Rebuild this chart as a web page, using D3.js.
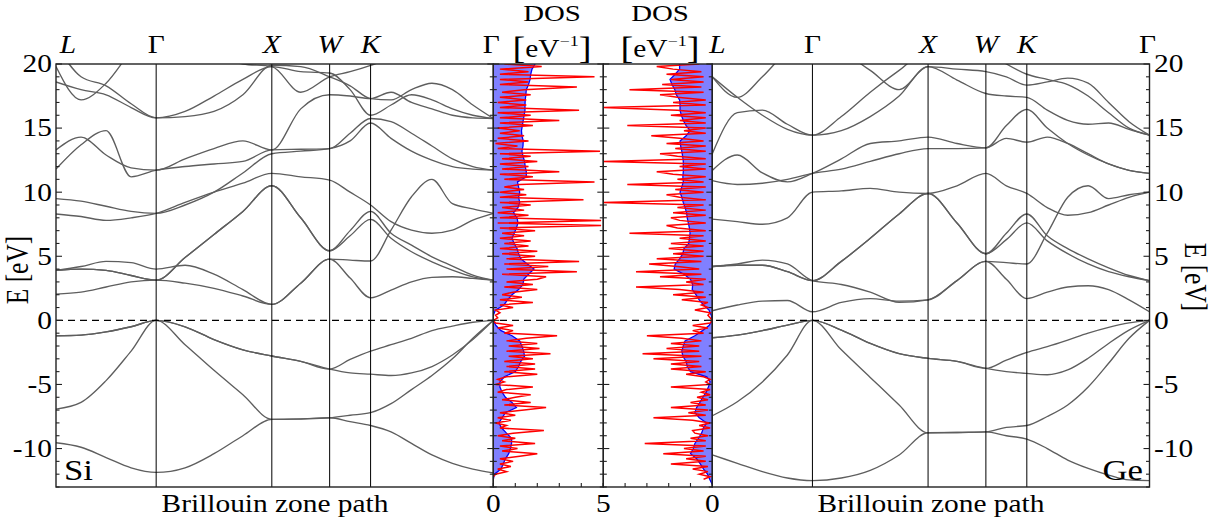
<!DOCTYPE html>
<html>
<head>
<meta charset="utf-8">
<script src="https://cdn.jsdelivr.net/npm/d3@7"></script>
<style>
  body { margin: 0; background: #fff; }
  text { font-family: "Liberation Serif", "Times New Roman", serif; fill: #000; }
</style>
</head>
<body>
<svg id="chart" width="1222" height="525"></svg>
<script>
// ---------- Brillouin-zone path (fcc) ----------
const pathLabels = ["L", "Γ", "X", "W", "K", "Γ"];
const segLengths = [0.866, 1.0, 0.5, 0.354, 1.061];   // in units of 2π/a
const segSamples = [4, 4, 2, 2, 6];                   // k-samples per segment

// Band energies (eV) at the sampled k-points along L-Γ-X-W-K-Γ
const siBands = [
  [-9.55,-9.9,-10.7,-11.5,-11.86, -11.5,-10.4,-9.0,-7.72, -7.7,-7.6, -7.9,-8.2, -8.7,-9.6,-10.5,-11.15,-11.6,-11.9],
  [-6.92,-6.4,-4.7,-2.4,0, -1.9,-3.9,-5.8,-7.72, -7.68,-7.6, -7.4,-7.2, -6.5,-5.4,-4.3,-3.0,-1.4,0],
  [-1.2,-1.15,-0.9,-0.5,0, -0.5,-1.5,-2.3,-2.78, -3.2,-3.8, -4.1,-4.2, -4.3,-4.1,-3.6,-2.7,-1.5,0],
  [-1.2,-1.15,-0.9,-0.5,0, -0.5,-1.5,-2.3,-2.78, -3.2,-3.8, -3.05,-2.4, -1.9,-1.4,-0.8,-0.45,-0.15,0],
  [2.05,2.2,2.6,3.0,3.14, 2.9,2.5,1.9,1.25, 2.9,4.78, 3.3,1.76, 2.36,3.0,3.35,3.4,3.27,3.14],
  [3.9,4.2,4.6,4.5,4.0, 4.3,3.6,2.4,1.25, 2.9,4.78, 4.7,4.63, 7.04,9.64,11.0,9.1,8.7,8.35],
  [3.9,4.0,3.9,3.5,3.14, 4.9,6.7,8.5,10.5, 8.0,5.43, 6.6,7.88, 6.4,5.35,4.57,3.92,3.4,3.14],
  [3.9,4.0,3.9,3.5,3.14, 4.9,6.7,8.5,10.5, 8.0,5.43, 7.0,8.5, 6.8,5.87,4.96,4.24,3.53,3.14],
  [8.3,8.1,7.8,8.0,8.35, 9.2,10.0,10.7,11.47, 11.2,10.94, 10.0,9.0, 7.7,7.04,6.8,7.04,7.82,8.35],
  [9.5,9.3,8.9,8.5,8.35, 9.0,10.0,11.5,13.0, 13.2,13.4, 14.0,15.4, 14.2,13.2,12.5,12.0,11.8,11.72],
  [11.8,13.7,14.8,11.2,11.72, 12.0,12.2,12.4,13.3, 13.35,13.4, 14.6,15.75, 15.5,14.6,13.6,12.6,12.0,11.72],
  [13.3,14.3,12.9,11.9,11.72, 12.6,13.4,14.0,13.3, 16.5,17.6, 17.5,17.3, 17.8,17.0,16.5,16.0,15.8,15.75],
  [19.8,17.2,18.5,21,23, 21,20.5,20.0,19.8, 17.8,19.0, 19.4,19.9, 20.5,21.5,21,20.5,20.5,21],
  [21.5,19.0,18.3,16.9,15.8, 16.3,17.5,18.8,19.8, 19.4,19.3, 18.0,16.0, 16.8,17.6,17.2,16.5,16.0,15.75],
  [18.6,18.0,17.6,16.6,15.8, 15.9,16.3,17.6,19.9, 19.8,19.0, 18.3,17.3, 17.2,18.0,18.5,18.0,16.8,15.75]
];
const geBands = [
  [-10.5,-11.15,-11.8,-12.3,-12.5, -12.3,-11.7,-10.5,-8.77, -8.75,-8.7, -9.0,-9.26, -10.0,-10.9,-11.55,-12.07,-12.45,-12.5],
  [-7.44,-6.35,-4.8,-2.7,0, -2.3,-4.45,-6.6,-8.77, -8.75,-8.7, -8.35,-8.2, -7.5,-6.6,-5.2,-3.35,-1.4,0],
  [-1.36,-1.15,-0.8,-0.37,0, -0.76,-1.8,-2.6,-2.97, -3.2,-3.75, -4.0,-4.14, -4.24,-3.87,-2.96,-1.8,-0.76,0],
  [-1.36,-1.15,-0.8,-0.37,0, -0.76,-1.8,-2.6,-2.97, -3.2,-3.75, -3.1,-2.5, -2.05,-1.54,-1.0,-0.55,-0.2,0],
  [0.75,1.2,1.5,1.55,0.67, 1.4,1.7,1.5,1.6, 3.1,4.6, 3.2,1.7, 2.2,2.6,2.7,2.4,1.6,0.67],
  [4.2,4.4,4.7,4.4,3.1, 2.8,2.2,1.4,1.6, 3.1,4.6, 4.5,4.4, 6.8,9.6,10.5,9.5,9.8,10.0],
  [4.2,4.3,4.3,3.8,3.1, 4.6,6.4,8.3,9.9, 7.6,5.2, 6.3,7.6, 6.2,5.2,4.4,3.8,3.4,3.1],
  [4.2,4.3,4.3,3.8,3.1, 4.6,6.4,8.3,9.9, 7.6,5.2, 6.8,8.3, 6.6,5.6,4.8,4.1,3.5,3.1],
  [7.9,7.7,7.5,8.0,10.0, 10.1,10.3,10.0,9.9, 10.5,11.47, 10.5,9.9, 8.8,8.2,8.4,9.0,9.6,10.0],
  [10.9,10.6,10.7,11.0,11.47, 11.8,12.4,13.0,13.4, 13.4,13.46, 14.2,13.9, 14.3,13.8,13.0,12.2,11.7,11.47],
  [11.7,12.9,11.5,10.8,11.47, 12.6,13.8,14.0,14.3, 13.8,13.46, 15.2,16.46, 15.0,13.8,12.9,12.2,11.7,11.47],
  [13.0,16.2,16.4,15.3,14.45, 15.9,17.8,19.5,21, 21,21, 20,19.2, 18.8,18.4,17.5,16.2,15.0,14.45],
  [19.0,17.4,16.0,14.9,14.45, 14.8,15.9,17.5,19.8, 18.75,17.7, 17.5,17.4, 16.4,15.6,15.3,15.4,14.9,14.45],
  [19.0,17.4,19.0,21,22, 21,19.5,18.0,19.8, 19.6,19.4, 19.0,18.35, 18.6,18.9,18.5,17.0,15.5,14.45]
];

// ---------- Densities of states (states/eV) ----------
const dosRawStart = -12.4, dosRawStep = 0.2;
const siDosRaw = [
  0,0,0.1,0.6,0.2,0.8,0.3,0.9,0.3,1.2,
  2.0,0.4,1.1,0.3,1.9,0.4,1.0,0.2,0.9,2.3,
  0.3,0.6,0.1,0.8,0.2,1.0,0.3,1.4,2.4,0.5,
  1.7,0.4,1.0,1.7,0.2,0.6,1.8,0.1,0.5,0.2,
  0.6,2.0,0.5,1.9,0.6,1.9,0.5,1.8,0.7,2.6,
  0.6,2.1,0.7,2.0,0.6,1.5,2.9,0.5,0.9,0.2,
  0.9,0.1,0.0,0.2,0.1,0.3,0.1,0.9,0.3,1.8,
  0.3,1.3,0.4,0.9,2.0,0.5,1.8,0.6,2.0,2.4,
  0.4,3.8,0.6,2.5,0.5,3.9,0.6,1.9,0.4,2.0,
  0.3,1.6,0.5,1.7,0.3,1.4,0.4,1.9,0.3,4.9,
  0.2,4.9,0.3,1.6,0.2,1.4,0.4,1.7,0.3,4.1,
  0.3,1.5,0.3,1.4,0.5,1.2,4.6,0.5,1.8,0.3,
  3.0,0.4,1.6,0.3,2.0,0.4,1.7,0.3,4.85,0.2,
  1.1,0.1,1.6,0.2,1.4,0.3,1.2,0.2,1.8,0.3,
  3.0,0.3,1.7,0.2,3.9,0.3,1.5,0.2,1.5,0.3,
  1.7,0.4,1.4,3.8,0.3,1.6,0.3,4.6,0.3,1.6,
  0.3,2.2,0.5
];
const geDosRaw = [
  0.4,0.1,0.6,0.2,0.9,0.2,1.9,0.3,1.2,0.3,
  2.25,0.4,1.3,0.3,3.1,0.3,1.0,0.2,0.8,0.9,
  0.1,0.6,0.1,0.9,2.7,0.3,1.1,0.2,1.9,0.3,
  1.0,0.2,0.7,0.1,0.5,0.1,1.9,0.1,0.3,0.1,
  0.4,1.2,0.3,1.9,0.5,1.9,0.6,2.7,0.5,3.2,
  0.6,2.1,0.6,1.9,0.5,1.4,3.0,0.4,0.9,0.2,
  0.9,0.1,0.0,0.1,0.2,0.1,0.8,0.2,0.5,0.2,
  1.4,0.3,1.8,0.4,1.5,3.5,0.4,1.2,0.3,2.4,
  0.5,3.5,0.6,1.6,2.9,0.5,2.55,0.4,1.8,0.4,
  2.0,0.4,1.9,0.3,1.5,0.4,3.8,0.3,1.6,2.1,
  0.3,1.5,1.9,0.3,1.8,0.3,1.6,0.4,5.0,0.3,
  1.5,2.1,0.4,1.7,0.3,3.9,0.4,1.6,0.3,1.8,
  2.55,0.3,1.5,0.3,5.0,0.3,1.6,2.4,0.3,1.7,
  0.3,2.1,0.4,1.5,2.8,0.3,1.3,0.3,3.9,0.3,
  1.5,0.3,1.9,0.3,1.6,5.0,0.3,1.8,0.3,1.6,
  2.4,0.4,3.8,0.5,2.3,0.4,1.9,0.4,2.1,0.5,
  1.8,2.55,0.6
];
const dosSmoothStart = -12.8, dosSmoothStep = 0.4;
const siDosSmooth = [
  0,0,0.05,0.35,0.45,0.55,0.7,0.78,0.83,0.83,0.6,0.38,0.25,0.4,0.55,1.05,0.85,0.55,0.4,0.3,
  0.3,0.5,1.0,1.15,1.25,1.42,1.38,1.3,1.2,0.85,0.35,0.12,0.0,0.0,0.1,0.48,0.65,0.85,1.15,1.35,
  1.38,1.6,1.85,1.55,1.25,1.15,1.08,0.95,0.85,0.95,1.05,1.12,1.08,0.92,1.12,1.2,1.15,1.2,1.15,1.1,
  1.5,1.5,1.45,1.42,1.35,1.3,1.35,1.36,1.3,1.28,1.32,1.36,1.4,1.44,1.44,1.45,1.48,1.5,1.6,1.67,
  1.7,1.76,1.9
];
const geDosSmooth = [
  0,0.12,0.22,0.4,0.55,0.72,1.0,0.87,0.8,0.64,0.49,0.41,0.26,0.6,0.8,0.72,0.57,0.43,0.28,0.18,
  0.1,0.25,1.0,1.15,1.2,1.35,1.4,1.33,1.25,0.8,0.45,0.15,0.0,0.05,0.15,0.4,0.6,0.75,0.92,0.9,
  1.0,1.3,1.75,1.7,1.5,1.35,1.3,1.08,1.05,1.02,1.05,1.1,1.15,1.18,1.25,1.33,1.4,1.48,1.4,1.33,
  1.35,1.33,1.33,1.33,1.36,1.4,1.45,1.48,1.2,1.02,1.2,1.33,1.42,1.48,1.48,1.5,1.65,1.72,1.85,1.94,
  1.7,1.5,1.5
];

// ---------- Axis ticks ----------
const energyMajorTicks = [-10, -5, 0, 5, 10, 15, 20];
const energyMinorTicks = d3.range(-13, 21, 1);
const dosTicks = [0, 1, 2, 3, 4, 5];

// ---------- Layout ----------
const svg = d3.select("#chart");
const yTop = 64, yBot = 487;
const yE = d3.scaleLinear().domain([-13, 20]).range([yBot, yTop]);
const stretch = 1.2;   // horizontal glyph stretch used for all lettering

const kGrid = [0];
const kNodes = [0];
let acc = 0;
segLengths.forEach((len, i) => {
  for (let j = 1; j <= segSamples[i]; j++) kGrid.push(acc + len * j / segSamples[i]);
  acc += len;
  kNodes.push(acc);
});
const kTotal = acc;

const panels = {
  si:    { x0: 56,  x1: 493.3 },
  siDos: { x0: 493.3, x1: 603.3 },
  geDos: { x0: 603.3, x1: 712.3 },
  ge:    { x0: 712.3, x1: 1149.5 }
};
const xSi = d3.scaleLinear().domain([0, kTotal]).range([panels.si.x0, panels.si.x1]);
const xGe = d3.scaleLinear().domain([0, kTotal]).range([panels.ge.x0, panels.ge.x1]);
const xSiDos = d3.scaleLinear().domain([0, 5]).range([panels.siDos.x0, panels.siDos.x1]);
const xGeDos = d3.scaleLinear().domain([5, 0]).range([panels.geDos.x0, panels.geDos.x1]);

const defs = svg.append("defs");
Object.entries(panels).forEach(([id, p]) => {
  defs.append("clipPath").attr("id", "clip-" + id)
    .append("rect").attr("x", p.x0).attr("y", yTop).attr("width", p.x1 - p.x0).attr("height", yBot - yTop);
});

// ---------- Band structures ----------
function drawBands(bands, xk, clipId) {
  const g = svg.append("g").attr("clip-path", `url(#${clipId})`);
  const line = d3.line().x((d, i) => xk(kGrid[i])).y(d => yE(d)).curve(d3.curveMonotoneX);
  g.selectAll("path.band").data(bands).join("path")
    .attr("class", "band").attr("d", line)
    .attr("fill", "none").attr("stroke", "#5e5e5e").attr("stroke-width", 1.35);
  g.selectAll("line.sym").data(kNodes.slice(1, -1)).join("line")
    .attr("x1", d => xk(d)).attr("x2", d => xk(d))
    .attr("y1", yTop).attr("y2", yBot)
    .attr("stroke", "#000").attr("stroke-width", 1);
}
drawBands(siBands, xSi, "clip-si");
drawBands(geBands, xGe, "clip-ge");

// ---------- DOS ----------
function drawDos(raw, smooth, xd, clipId) {
  const g = svg.append("g").attr("clip-path", `url(#${clipId})`);
  const sm = smooth.map((v, i) => ({ e: dosSmoothStart + i * dosSmoothStep, v }));
  const rw = raw.map((v, i) => ({ e: dosRawStart + i * dosRawStep, v }));
  g.append("path").datum(sm)
    .attr("d", d3.area().y(d => yE(d.e)).x0(xd(0)).x1(d => xd(d.v)))
    .attr("fill", "#8080ff");
  g.append("path").datum(sm)
    .attr("d", d3.line().y(d => yE(d.e)).x(d => xd(d.v)))
    .attr("fill", "none").attr("stroke", "#0000ff").attr("stroke-width", 1.3);
  g.append("path").datum(rw)
    .attr("d", d3.line().y(d => yE(d.e)).x(d => xd(d.v)))
    .attr("fill", "none").attr("stroke", "#ff0000").attr("stroke-width", 1.5);
}
drawDos(siDosRaw, siDosSmooth, xSiDos, "clip-siDos");
drawDos(geDosRaw, geDosSmooth, xGeDos, "clip-geDos");

// ---------- Fermi level ----------
svg.append("line")
  .attr("x1", panels.si.x0).attr("x2", panels.ge.x1)
  .attr("y1", yE(0)).attr("y2", yE(0))
  .attr("stroke", "#000").attr("stroke-width", 1.3).attr("stroke-dasharray", "7,5");

// ---------- Frames and ticks ----------
const frame = svg.append("g").attr("fill", "none").attr("stroke", "#222").attr("stroke-width", 1.4);
Object.values(panels).forEach(p => {
  frame.append("rect").attr("x", p.x0).attr("y", yTop).attr("width", p.x1 - p.x0).attr("height", yBot - yTop);
});

function eTicks(x, dir) {
  const g = svg.append("g").attr("stroke", "#222").attr("stroke-width", 1.1);
  energyMinorTicks.forEach(t => {
    const len = energyMajorTicks.includes(t) ? 6 : 3.5;
    g.append("line").attr("x1", x).attr("x2", x + dir * len).attr("y1", yE(t)).attr("y2", yE(t));
  });
}
eTicks(panels.si.x0, 1);
eTicks(panels.si.x1, -1);
eTicks(panels.siDos.x0, 1);
eTicks(panels.siDos.x1, -1);
eTicks(panels.geDos.x0, 1);
eTicks(panels.geDos.x1, -1);
eTicks(panels.ge.x1, -1);

const dosTickG = svg.append("g").attr("stroke", "#222").attr("stroke-width", 1.1);
dosTicks.forEach(t => {
  [xSiDos, xGeDos].forEach(s => {
    dosTickG.append("line").attr("x1", s(t)).attr("x2", s(t)).attr("y1", yBot).attr("y2", yBot - 4);
  });
});

// ---------- Text ----------
function label(x, y, str, opt = {}) {
  const g = svg.append("g")
    .attr("transform", `translate(${x},${y}) scale(${stretch},1)` + (opt.rotate ? ` rotate(${opt.rotate})` : ""));
  const t = g.append("text")
    .attr("text-anchor", opt.anchor || "middle")
    .attr("font-size", opt.size || 24.5)
    .attr("font-style", opt.italic ? "italic" : "normal");
  if (opt.dy) t.attr("dy", opt.dy);
  t.text(str);
  return t;
}

// energy tick labels
energyMajorTicks.forEach(t => {
  label(52, yE(t), t, { anchor: "end", dy: "0.34em" });
  label(1154, yE(t), t, { anchor: "start", dy: "0.34em" });
});
// energy axis titles
label(28, 270, "E [eV]", { rotate: -90, size: 25.5 });
label(1185, 277, "E [eV]", { rotate: 90, size: 25.5 });

// high-symmetry labels
function symLabels(xk, shiftFirst) {
  pathLabels.forEach((lab, i) => {
    let x = xk(kNodes[i]);
    if (i === 0) x += shiftFirst;
    if (i === pathLabels.length - 1) x -= 2;
    label(x, 53, lab, { italic: lab !== "Γ" });
  });
}
symLabels(xSi, 12);
symLabels(xGe, 5);

// DOS titles
function dosTitle(cx) {
  label(cx, 21, "DOS", { size: 24 });
  const g = svg.append("g").attr("transform", `translate(${cx},57) scale(${stretch},1)`);
  const t = g.append("text").attr("text-anchor", "middle").attr("font-size", 24.5);
  t.append("tspan").attr("font-size", 32).attr("dy", 2).text("[");
  t.append("tspan").attr("dy", -2).text("eV");
  t.append("tspan").attr("font-size", 15).attr("dy", -11).text("−1");
  t.append("tspan").attr("font-size", 32).attr("dy", 13).text("]");
}
dosTitle(552);
dosTitle(660);

// bottom labels
[[xSiDos(0), "0"], [xSiDos(5), "5"], [xGeDos(0), "0"]].forEach(([x, s]) => label(x, 512, s));
label(275, 512, "Brillouin zone path");
label(931, 512, "Brillouin zone path");

// material labels
label(64, 480, "Si", { anchor: "start", size: 29 });
label(1143, 480, "Ge", { anchor: "end", size: 29 });
</script>
</body>
</html>
